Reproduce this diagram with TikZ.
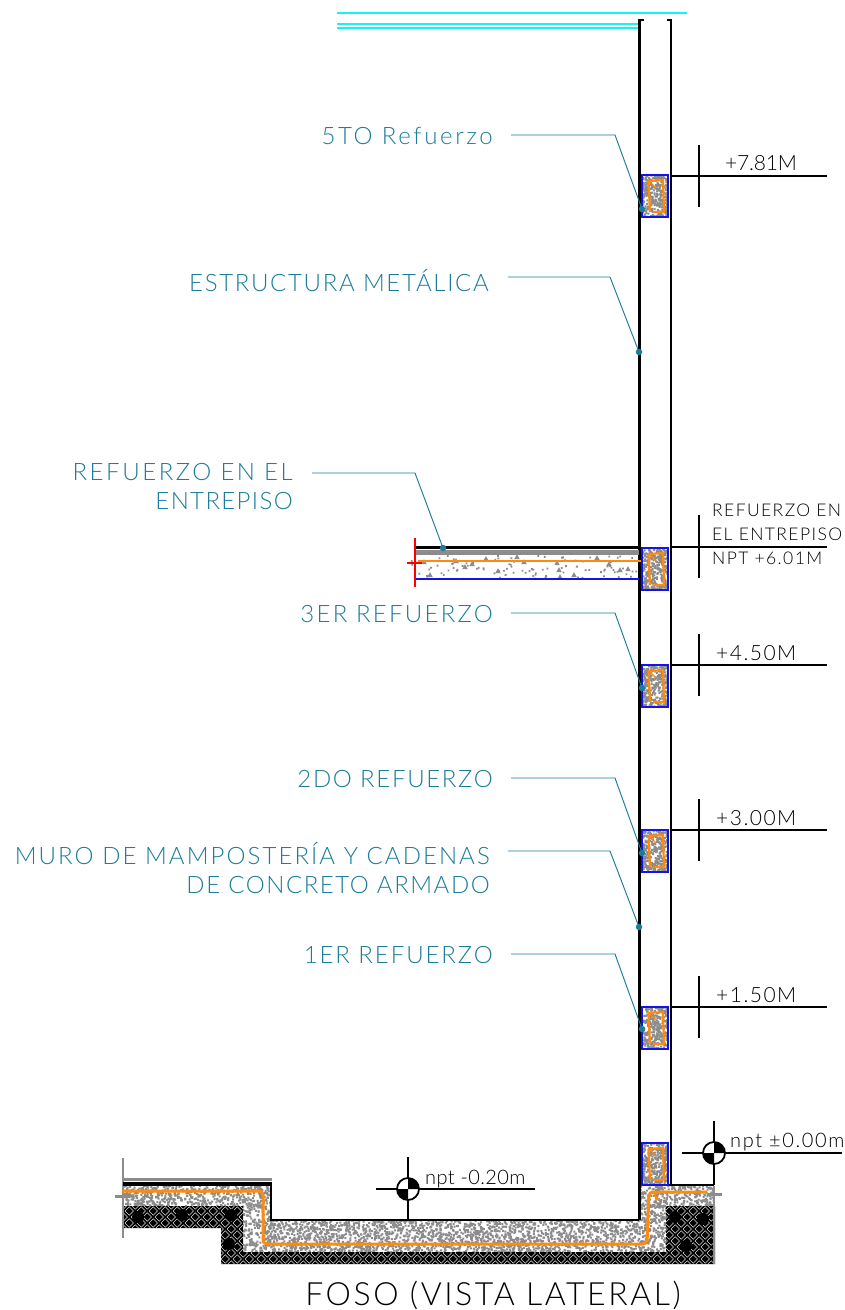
\documentclass[tikz,border=0pt]{standalone}
\usepackage{fontspec}
\setmainfont{Lato}[UprightFont=* Light,LetterSpace=8]
\newcommand{\LS}[1]{\addfontfeature{LetterSpace=#1}}
\definecolor{teal1}{HTML}{1B7C9C}
\definecolor{cy}{HTML}{19F2F2}
\definecolor{bl}{HTML}{1414E6}
\definecolor{org}{HTML}{FF8A0C}
\definecolor{gr}{HTML}{8C8C8C}
\tikzset{
 wall/.style={line width=2.1pt,black},
 lead/.style={line width=0.95pt,teal1},
 leadtxt/.style={text=teal1,font=\fontsize{24}{29}\selectfont,anchor=east,align=right,inner sep=0pt},
 lvl/.style={line width=1.8pt,black},
 lvltxt/.style={text=black,font=\fontsize{21}{21}\selectfont,anchor=base west,inner sep=0pt},
 smalltxt/.style={text=black,font=\fontsize{17.5}{24}\selectfont,anchor=north west,align=left,inner sep=0pt},
 orangebar/.style={line width=3pt,org,line join=round},
 dot/.style={circle,fill=teal1,inner sep=0pt,minimum size=6.5pt},
}
% xmin,ymin,w,h,batches of 20 dots,side
\newcommand{\mydots}[6]{%
 \begin{scope}[fill=gr]
 \foreach \i in {1,...,#5} {\fill foreach \k in {1,...,20} {({#1+rnd*#3},{#2+rnd*#4}) rectangle ++(#6,#6)};}
 \end{scope}}
\newcommand{\refbox}[1]{%
 \begin{scope}[shift={(0,#1)}]
  \begin{scope}\clip (643,0) rectangle (667,42); \mydots{642}{-1}{25}{43}{16}{2}\end{scope}
  \draw[org,line width=2.2pt,line join=round] (650,37) -- (648.5,6) -- (663,5) -- (664,37) -- (653,37) ;
  \draw[org,line width=1.4pt] (649,6) -- (656,13);
  \draw[bl,line width=2.1pt] (642,0) rectangle (668,42);
 \end{scope}}
\newcommand{\target}[1]{%
 \fill[white] (#1) circle (11);
 \fill[black] (#1) -- ++(-11,0) arc (180:90:11) -- cycle;
 \fill[black] (#1) -- ++(11,0) arc (0:-90:11) -- cycle;
 \draw[black,line width=1.8pt] (#1) circle (11);}
\begin{document}
\begin{tikzpicture}[x=1pt,y=-1pt]
\fill[white] (0,0) rectangle (845,1310);
\useasboundingbox (0,0) rectangle (845,1310);
\pgfmathsetseed{4242}
% cyan lines
\draw[cy,line width=2pt] (337,13) -- (687,13) (337,24) -- (639,24) (337,28) -- (639,28);
% concrete foundation
\begin{scope}
 \clip (123,1186) -- (271,1186) -- (271,1220) -- (639,1220) -- (639,1186) -- (714,1186) -- (714,1206) -- (666,1206) -- (666,1252) -- (243,1252) -- (243,1206) -- (123,1206) -- cycle;
 \mydots{122}{1185}{150}{22}{31}{2}
 \mydots{242}{1204}{425}{48}{190}{2}
 \mydots{639}{1185}{76}{22}{16}{2}
\end{scope}
% ground hatch
\begin{scope}
 \clip (123,1206) -- (243,1206) -- (243,1252) -- (666,1252) -- (666,1206) -- (715,1206) -- (715,1264) -- (221,1264) -- (221,1228) -- (123,1228) -- cycle;
 \fill[black] (120,1200) rectangle (720,1270);
 \begin{scope}[draw=white!85!black,line width=0.55pt]
 \foreach \i in {0,...,98}{\foreach \j in {0,...,10}{%
  \pgfmathsetmacro\xa{123+6*\i}\pgfmathsetmacro\ya{1205+6*\j}
  \ifodd\numexpr\i+\j\relax
   \draw (\xa,\ya+1.5) -- ++(4.5,4.5) (\xa+2,\ya) -- ++(4,4);
  \else
   \draw (\xa,\ya+4.5) -- ++(4.5,-4.5) (\xa+2,\ya+6) -- ++(4,-4);
  \fi}}
 \end{scope}
 \fill[black] (138,1217) circle (6) (182,1215) circle (6) (231,1215) circle (6) (229,1244) circle (6)
  (675,1217) circle (6) (703,1219) circle (6) (686,1246) circle (6);
\end{scope}
% foundation outlines
\draw[gr,line width=1.5pt] (123,1158) -- (123,1238);
\draw[gr,line width=3pt] (115,1196) -- (130,1196);
\draw[gr,line width=3pt] (123,1179.5) -- (272,1179.5);
\fill[black] (123,1182) rectangle (271,1186);
\draw[wall] (271,1182) -- (271,1220) -- (639,1220);
\draw[gr,line width=1.5pt] (714,1186) -- (714,1264);
\draw[gr,line width=3pt] (707,1194) -- (722,1194);
\draw[orangebar,rounded corners=4pt] (122,1191) -- (263,1191) -- (263,1244) -- (647,1244) -- (649,1192) -- (707,1192);
\foreach \x in {297,329,360,393,583,614}{\draw[org,line width=1.5pt] (\x,1241) -- (\x,1246);}
\draw[org,line width=1.4pt] (655,1193) -- (655,1197) (656,1196) -- (656,1199) -- (660,1199);
% walls
\draw[wall] (639.5,1220) -- (639.5,20) -- (644,20);
\draw[wall] (671.4,1185) -- (671.4,20) -- (667,20);
\draw[wall] (639,1185) -- (714,1185);
% slab
\begin{scope}
 \clip (409,555) rectangle (639,579);
 \mydots{409}{555}{230}{24}{5}{1.8}
 \foreach \x/\y in {424/562,456/561,472/564,486/559,517/557,524/562,557/563,597/558,559/570,609/564,430/575,498/571,500/579,560/577,620/570,574/575,628/569,465/567}{\fill[gr] (\x,\y) ++(-2.8,2.2) -- ++(5.6,0) -- ++(-2.8,-5) -- cycle;}
\end{scope}
\draw[gr,line width=4.5pt] (416,552.5) -- (639,552.5);
\draw[wall] (415,547.5) -- (639,547.5);
\draw[org,line width=1.5pt] (418,561) -- (650,561);
\draw[bl,line width=1.6pt] (415,579) -- (639,579);
\draw[red,line width=1.9pt] (415,538) -- (415,587);
\draw[red,line width=2.6pt] (407,563) -- (422,563);
% reinforcement boxes
\foreach \y in {175,548,665,830,1007,1143}{\refbox{\y}}
% level marks
\coordinate (w1) at (671,176); \coordinate (e1) at (827,176);
\coordinate (w2) at (671,547); \coordinate (e2) at (827,547);
\coordinate (w3) at (671,665); \coordinate (e3) at (827,665);
\coordinate (w4) at (671,830); \coordinate (e4) at (827,830);
\coordinate (w5) at (671,1007); \coordinate (e5) at (827,1007);
\draw[lvl] (w1) -- (e1) (699,145) -- (699,207);
\draw[lvl] (w2) -- (e2) (699,515) -- (699,578);
\draw[lvl] (w3) -- (e3) (699,634) -- (699,696);
\draw[lvl] (w4) -- (e4) (699,799) -- (699,861);
\draw[lvl] (w5) -- (e5) (699,976) -- (699,1038);
\node[lvltxt] (t1) at (725,170) {\LS{-1}+7.81M};
\node[lvltxt] (t3) at (716,660) {\LS{7}+4.50M};
\node[lvltxt] (t4) at (716,825) {\LS{7}+3.00M};
\node[lvltxt] (t5) at (716,1002) {\LS{7}+1.50M};
\node[smalltxt] (t2) at (712,504) {REFUERZO EN\\EL ENTREPISO\\NPT +6.01M};
% npt marks
\coordinate (n1) at (714,1153); \coordinate (n2) at (408,1189);
\draw[lvl] (682,1153) -- (842,1153) (714,1121) -- (714,1185);
\draw[lvl] (376,1189) -- (535,1189) (408,1157) -- (408,1220);
\target{n1}\target{n2}
\node[lvltxt,font=\fontsize{20}{20}\selectfont] (nt1) at (730,1147) {npt ±0.00m};
\node[lvltxt,font=\fontsize{20}{20}\selectfont] (nt2) at (425,1184) {\LS{2}npt -0.20m};
% leader labels
\node[leadtxt] (a) at (493,136) {\LS{11}5TO Refuerzo};
\node[leadtxt] (b) at (489,281) {\LS{7}ESTRUCTURA METÁLICA};
\node[leadtxt] (c) at (293,487) {{\LS{10.7}REFUERZO EN EL}\\{\LS{5.7}ENTREPISO}};
\node[leadtxt] (d) at (493,614) {\LS{9.4}3ER REFUERZO};
\node[leadtxt] (e) at (493,779) {\LS{7}2DO REFUERZO};
\node[leadtxt] (f) at (490,868) {{\LS{8.6}MURO DE MAMPOSTERÍA Y CADENAS}\\{\LS{6.5}DE CONCRETO ARMADO}};
\node[leadtxt] (g) at (493,955) {1ER REFUERZO};
\node[dot] (da) at (642,209) {};
\node[dot] (db) at (639,352) {};
\node[dot] (dc) at (443,548) {};
\node[dot] (dd) at (642,688) {};
\node[dot] (de) at (642,853) {};
\node[dot] (df) at (639,927) {};
\node[dot] (dg) at (642,1029) {};
\draw[lead] (511,135) -- (615,135) -- (da.center);
\draw[lead] (508,277) -- (610,277) -- (db.center);
\draw[lead] (312,473) -- (415,473) -- (dc.center);
\draw[lead] (511,613) -- (615,613) -- (dd.center);
\draw[lead] (511,778) -- (615,778) -- (de.center);
\draw[lead] (508,851) -- (610,851) -- (df.center);
\draw[lead] (511,954) -- (615,954) -- (dg.center);
% title
\node[text=black,font=\fontsize{32}{32}\selectfont,inner sep=0pt] (title) at (493,1295) {FOSO (VISTA LATERAL)};
\end{tikzpicture}
\end{document}
